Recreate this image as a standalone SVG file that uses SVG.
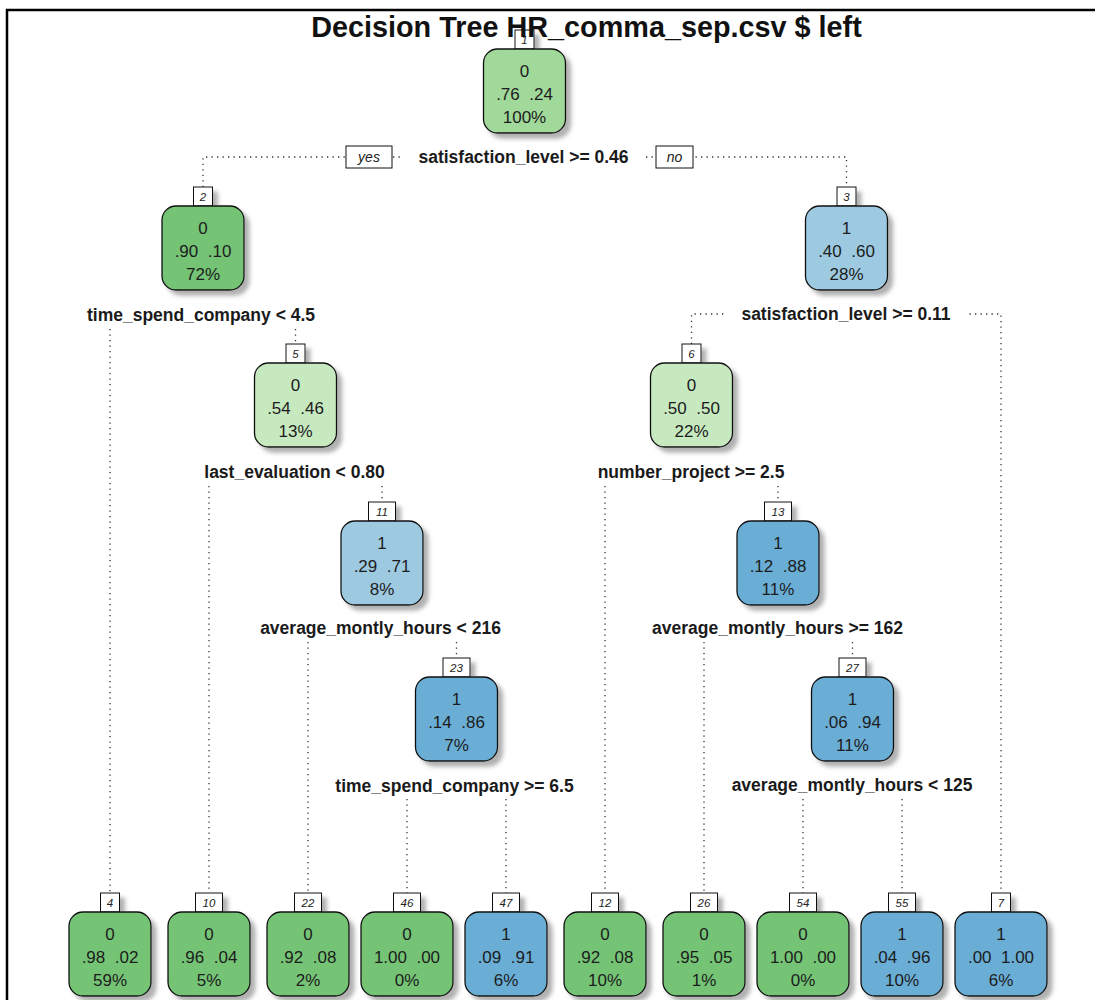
<svg xmlns="http://www.w3.org/2000/svg" width="1095" height="1000" viewBox="0 0 1095 1000">
<defs>
<filter id="sh" x="-20%" y="-20%" width="150%" height="150%">
<feDropShadow dx="5" dy="5" stdDeviation="2" flood-color="#6f6f6f" flood-opacity="0.55"/>
</filter>
<style>
.nb{stroke:#111;stroke-width:1.3}
.g1{fill:#74C476}
.g2{fill:#A1D99B}
.g3{fill:#C7E9C0}
.b1{fill:#6BAED6}
.b2{fill:#9ECAE1}
.lb{fill:#fff;stroke:#111;stroke-width:1}
.t{font-family:"Liberation Sans",Arial,sans-serif;font-size:17px;fill:#1c1c1c;text-anchor:middle}
.lt{font-family:"Liberation Sans",Arial,sans-serif;font-size:11.5px;font-style:italic;fill:#222;text-anchor:middle}
.sp{font-family:"Liberation Sans",Arial,sans-serif;font-size:17.5px;font-weight:bold;fill:#1a1a1a;text-anchor:middle}
.yn{font-family:"Liberation Sans",Arial,sans-serif;font-size:14px;font-style:italic;fill:#222;text-anchor:middle}
.c{fill:none;stroke:#333;stroke-width:1.3;stroke-dasharray:1.3 4.2}
.bg{fill:#fff}
</style>
</defs>
<rect width="1095" height="1000" fill="#fff"/>
<path d="M7,1000 V10 H1095" fill="none" stroke="#000" stroke-width="2.5"/>

<g id="connectors">
<path class="c" d="M203,187 V157 H846.5 V187"/>
<path class="c" d="M110,329 V893 M295.5,329 V344"/>
<path class="c" d="M691.5,344 V314 H1001 V893"/>
<path class="c" d="M209,486 V893 M382,486 V502"/>
<path class="c" d="M605,486 V893 M778,486 V502"/>
<path class="c" d="M308,642 V893 M456.5,642 V658"/>
<path class="c" d="M704,642 V893 M852.5,642 V658"/>
<path class="c" d="M407,799 V893 M506,799 V893"/>
<path class="c" d="M803,799 V893 M902,799 V893"/>
</g>

<g id="split-labels">
<rect class="bg" x="404" y="146" width="240" height="22"/>
<text class="sp" x="523.5" y="163">satisfaction_level &gt;= 0.46</text>
<rect class="bg" x="726" y="303" width="240" height="22"/>
<text class="sp" x="846" y="320">satisfaction_level &gt;= 0.11</text>
<text class="sp" x="201" y="321">time_spend_company &lt; 4.5</text>
<text class="sp" x="294.5" y="478">last_evaluation &lt; 0.80</text>
<text class="sp" x="691" y="478">number_project &gt;= 2.5</text>
<text class="sp" x="380.5" y="634">average_montly_hours &lt; 216</text>
<text class="sp" x="777.5" y="634">average_montly_hours &gt;= 162</text>
<text class="sp" x="454.5" y="792">time_spend_company &gt;= 6.5</text>
<text class="sp" x="852" y="791">average_montly_hours &lt; 125</text>
<rect class="lb" x="346" y="146" width="46" height="22"/>
<text class="yn" x="369" y="162">yes</text>
<rect class="lb" x="656" y="146" width="37" height="22"/>
<text class="yn" x="674.5" y="162">no</text>
</g>

<g id="node-1">
<g filter="url(#sh)"><rect class="lb" x="515" y="30" width="19" height="19"/><rect class="nb g2" x="483.5" y="49" width="82" height="84" rx="14"/></g>
<text class="lt" x="524.5" y="44">1</text>
<text class="t" x="524.5" y="77">0</text><text class="t" x="524.5" y="100">.76 &#160;.24</text><text class="t" x="524.5" y="123">100%</text>
</g>

<g id="node-2">
<g filter="url(#sh)"><rect class="lb" x="193.5" y="187" width="19" height="19"/><rect class="nb g1" x="162" y="206" width="82" height="84" rx="14"/></g>
<text class="lt" x="203" y="201">2</text>
<text class="t" x="203" y="234">0</text><text class="t" x="203" y="257">.90 &#160;.10</text><text class="t" x="203" y="280">72%</text>
</g>

<g id="node-3">
<g filter="url(#sh)"><rect class="lb" x="837" y="187" width="19" height="19"/><rect class="nb b2" x="805.5" y="206" width="82" height="84" rx="14"/></g>
<text class="lt" x="846.5" y="201">3</text>
<text class="t" x="846.5" y="234">1</text><text class="t" x="846.5" y="257">.40 &#160;.60</text><text class="t" x="846.5" y="280">28%</text>
</g>

<g id="node-5">
<g filter="url(#sh)"><rect class="lb" x="286" y="344" width="19" height="19"/><rect class="nb g3" x="254.5" y="363" width="82" height="84" rx="14"/></g>
<text class="lt" x="295.5" y="358">5</text>
<text class="t" x="295.5" y="391">0</text><text class="t" x="295.5" y="414">.54 &#160;.46</text><text class="t" x="295.5" y="437">13%</text>
</g>

<g id="node-6">
<g filter="url(#sh)"><rect class="lb" x="682" y="344" width="19" height="19"/><rect class="nb g3" x="650.5" y="363" width="82" height="84" rx="14"/></g>
<text class="lt" x="691.5" y="358">6</text>
<text class="t" x="691.5" y="391">0</text><text class="t" x="691.5" y="414">.50 &#160;.50</text><text class="t" x="691.5" y="437">22%</text>
</g>

<g id="node-11">
<g filter="url(#sh)"><rect class="lb" x="368.5" y="502" width="27" height="19"/><rect class="nb b2" x="341" y="521" width="82" height="84" rx="14"/></g>
<text class="lt" x="382" y="516">11</text>
<text class="t" x="382" y="549">1</text><text class="t" x="382" y="572">.29 &#160;.71</text><text class="t" x="382" y="595">8%</text>
</g>

<g id="node-13">
<g filter="url(#sh)"><rect class="lb" x="764.5" y="502" width="27" height="19"/><rect class="nb b1" x="737" y="521" width="82" height="84" rx="14"/></g>
<text class="lt" x="778" y="516">13</text>
<text class="t" x="778" y="549">1</text><text class="t" x="778" y="572">.12 &#160;.88</text><text class="t" x="778" y="595">11%</text>
</g>

<g id="node-23">
<g filter="url(#sh)"><rect class="lb" x="443" y="658" width="27" height="19"/><rect class="nb b1" x="415.5" y="677" width="82" height="84" rx="14"/></g>
<text class="lt" x="456.5" y="672">23</text>
<text class="t" x="456.5" y="705">1</text><text class="t" x="456.5" y="728">.14 &#160;.86</text><text class="t" x="456.5" y="751">7%</text>
</g>

<g id="node-27">
<g filter="url(#sh)"><rect class="lb" x="839" y="658" width="27" height="19"/><rect class="nb b1" x="811.5" y="677" width="82" height="84" rx="14"/></g>
<text class="lt" x="852.5" y="672">27</text>
<text class="t" x="852.5" y="705">1</text><text class="t" x="852.5" y="728">.06 &#160;.94</text><text class="t" x="852.5" y="751">11%</text>
</g>

<g id="node-4">
<g filter="url(#sh)"><rect class="lb" x="100.5" y="893" width="19" height="19"/><rect class="nb g1" x="69" y="912" width="82" height="84" rx="14"/></g>
<text class="lt" x="110" y="907">4</text>
<text class="t" x="110" y="940">0</text><text class="t" x="110" y="963">.98 &#160;.02</text><text class="t" x="110" y="986">59%</text>
</g>

<g id="node-10">
<g filter="url(#sh)"><rect class="lb" x="195.5" y="893" width="27" height="19"/><rect class="nb g1" x="168" y="912" width="82" height="84" rx="14"/></g>
<text class="lt" x="209" y="907">10</text>
<text class="t" x="209" y="940">0</text><text class="t" x="209" y="963">.96 &#160;.04</text><text class="t" x="209" y="986">5%</text>
</g>

<g id="node-22">
<g filter="url(#sh)"><rect class="lb" x="294.5" y="893" width="27" height="19"/><rect class="nb g1" x="267" y="912" width="82" height="84" rx="14"/></g>
<text class="lt" x="308" y="907">22</text>
<text class="t" x="308" y="940">0</text><text class="t" x="308" y="963">.92 &#160;.08</text><text class="t" x="308" y="986">2%</text>
</g>

<g id="node-46">
<g filter="url(#sh)"><rect class="lb" x="393.5" y="893" width="27" height="19"/><rect class="nb g1" x="361" y="912" width="92" height="84" rx="14"/></g>
<text class="lt" x="407" y="907">46</text>
<text class="t" x="407" y="940">0</text><text class="t" x="407" y="963">1.00 &#160;.00</text><text class="t" x="407" y="986">0%</text>
</g>

<g id="node-47">
<g filter="url(#sh)"><rect class="lb" x="492.5" y="893" width="27" height="19"/><rect class="nb b1" x="465" y="912" width="82" height="84" rx="14"/></g>
<text class="lt" x="506" y="907">47</text>
<text class="t" x="506" y="940">1</text><text class="t" x="506" y="963">.09 &#160;.91</text><text class="t" x="506" y="986">6%</text>
</g>

<g id="node-12">
<g filter="url(#sh)"><rect class="lb" x="591.5" y="893" width="27" height="19"/><rect class="nb g1" x="564" y="912" width="82" height="84" rx="14"/></g>
<text class="lt" x="605" y="907">12</text>
<text class="t" x="605" y="940">0</text><text class="t" x="605" y="963">.92 &#160;.08</text><text class="t" x="605" y="986">10%</text>
</g>

<g id="node-26">
<g filter="url(#sh)"><rect class="lb" x="690.5" y="893" width="27" height="19"/><rect class="nb g1" x="663" y="912" width="82" height="84" rx="14"/></g>
<text class="lt" x="704" y="907">26</text>
<text class="t" x="704" y="940">0</text><text class="t" x="704" y="963">.95 &#160;.05</text><text class="t" x="704" y="986">1%</text>
</g>

<g id="node-54">
<g filter="url(#sh)"><rect class="lb" x="789.5" y="893" width="27" height="19"/><rect class="nb g1" x="757" y="912" width="92" height="84" rx="14"/></g>
<text class="lt" x="803" y="907">54</text>
<text class="t" x="803" y="940">0</text><text class="t" x="803" y="963">1.00 &#160;.00</text><text class="t" x="803" y="986">0%</text>
</g>

<g id="node-55">
<g filter="url(#sh)"><rect class="lb" x="888.5" y="893" width="27" height="19"/><rect class="nb b1" x="861" y="912" width="82" height="84" rx="14"/></g>
<text class="lt" x="902" y="907">55</text>
<text class="t" x="902" y="940">1</text><text class="t" x="902" y="963">.04 &#160;.96</text><text class="t" x="902" y="986">10%</text>
</g>

<g id="node-7">
<g filter="url(#sh)"><rect class="lb" x="991.5" y="893" width="19" height="19"/><rect class="nb b1" x="955" y="912" width="92" height="84" rx="14"/></g>
<text class="lt" x="1001" y="907">7</text>
<text class="t" x="1001" y="940">1</text><text class="t" x="1001" y="963">.00 &#160;1.00</text><text class="t" x="1001" y="986">6%</text>
</g>

<text x="586.5" y="37" font-family="'Liberation Sans',Arial,sans-serif" font-size="28.8" font-weight="bold" fill="#111" text-anchor="middle">Decision Tree HR_comma_sep.csv $ left</text>
</svg>
